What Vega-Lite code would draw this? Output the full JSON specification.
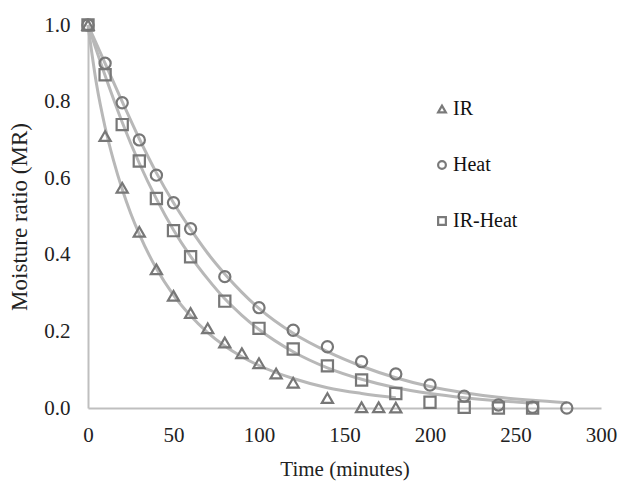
{
  "$schema": "https://vega.github.io/schema/vega-lite/v6.json",
  "width": 513,
  "height": 383,
  "autosize": {"type": "none"},
  "padding": {"left": 88, "top": 25, "right": 21, "bottom": 73},
  "background": "white",
  "config": {
    "view": {"stroke": null},
    "font": "Liberation Serif",
    "axis": {
      "grid": false,
      "ticks": false,
      "domainColor": "#bfbfbf",
      "domainWidth": 2,
      "labelFont": "Liberation Serif",
      "labelFontSize": 21,
      "labelColor": "#222222",
      "titleFont": "Liberation Serif",
      "titleFontSize": 21,
      "titleFontWeight": "normal",
      "titleColor": "#222222"
    },
    "legend": {
      "labelFont": "Liberation Serif",
      "labelFontSize": 20,
      "labelColor": "#111111"
    }
  },
  "datasets": {
    "points": [
      {"t": 0, "mr": 1.0, "series": "IR"},
      {"t": 10, "mr": 0.71, "series": "IR"},
      {"t": 20, "mr": 0.575, "series": "IR"},
      {"t": 30, "mr": 0.46, "series": "IR"},
      {"t": 40, "mr": 0.362, "series": "IR"},
      {"t": 50, "mr": 0.293, "series": "IR"},
      {"t": 60, "mr": 0.248, "series": "IR"},
      {"t": 70, "mr": 0.208, "series": "IR"},
      {"t": 80, "mr": 0.171, "series": "IR"},
      {"t": 90, "mr": 0.143, "series": "IR"},
      {"t": 100, "mr": 0.117, "series": "IR"},
      {"t": 110, "mr": 0.09, "series": "IR"},
      {"t": 120, "mr": 0.066, "series": "IR"},
      {"t": 140, "mr": 0.026, "series": "IR"},
      {"t": 160, "mr": 0.002, "series": "IR"},
      {"t": 170, "mr": 0.002, "series": "IR"},
      {"t": 180, "mr": 0.001, "series": "IR"},
      {"t": 0, "mr": 1.0, "series": "Heat"},
      {"t": 10, "mr": 0.9, "series": "Heat"},
      {"t": 20, "mr": 0.797, "series": "Heat"},
      {"t": 30, "mr": 0.7, "series": "Heat"},
      {"t": 40, "mr": 0.608, "series": "Heat"},
      {"t": 50, "mr": 0.536, "series": "Heat"},
      {"t": 60, "mr": 0.468, "series": "Heat"},
      {"t": 80, "mr": 0.343, "series": "Heat"},
      {"t": 100, "mr": 0.262, "series": "Heat"},
      {"t": 120, "mr": 0.203, "series": "Heat"},
      {"t": 140, "mr": 0.16, "series": "Heat"},
      {"t": 160, "mr": 0.121, "series": "Heat"},
      {"t": 180, "mr": 0.089, "series": "Heat"},
      {"t": 200, "mr": 0.06, "series": "Heat"},
      {"t": 220, "mr": 0.031, "series": "Heat"},
      {"t": 240, "mr": 0.008, "series": "Heat"},
      {"t": 260, "mr": 0.002, "series": "Heat"},
      {"t": 280, "mr": 0.0, "series": "Heat"},
      {"t": 0, "mr": 1.0, "series": "IR-Heat"},
      {"t": 10, "mr": 0.87, "series": "IR-Heat"},
      {"t": 20, "mr": 0.74, "series": "IR-Heat"},
      {"t": 30, "mr": 0.645, "series": "IR-Heat"},
      {"t": 40, "mr": 0.547, "series": "IR-Heat"},
      {"t": 50, "mr": 0.463, "series": "IR-Heat"},
      {"t": 60, "mr": 0.395, "series": "IR-Heat"},
      {"t": 80, "mr": 0.279, "series": "IR-Heat"},
      {"t": 100, "mr": 0.208, "series": "IR-Heat"},
      {"t": 120, "mr": 0.154, "series": "IR-Heat"},
      {"t": 140, "mr": 0.11, "series": "IR-Heat"},
      {"t": 160, "mr": 0.073, "series": "IR-Heat"},
      {"t": 180, "mr": 0.038, "series": "IR-Heat"},
      {"t": 200, "mr": 0.015, "series": "IR-Heat"},
      {"t": 220, "mr": 0.002, "series": "IR-Heat"},
      {"t": 240, "mr": 0.0, "series": "IR-Heat"},
      {"t": 260, "mr": 0.0, "series": "IR-Heat"}
    ],
    "curves": [
      {"t": 0, "mr": 1.0, "series": "IR"},
      {"t": 5, "mr": 0.845, "series": "IR"},
      {"t": 10, "mr": 0.733, "series": "IR"},
      {"t": 15, "mr": 0.645, "series": "IR"},
      {"t": 20, "mr": 0.571, "series": "IR"},
      {"t": 25, "mr": 0.508, "series": "IR"},
      {"t": 30, "mr": 0.454, "series": "IR"},
      {"t": 40, "mr": 0.364, "series": "IR"},
      {"t": 50, "mr": 0.295, "series": "IR"},
      {"t": 60, "mr": 0.241, "series": "IR"},
      {"t": 70, "mr": 0.197, "series": "IR"},
      {"t": 80, "mr": 0.162, "series": "IR"},
      {"t": 90, "mr": 0.134, "series": "IR"},
      {"t": 100, "mr": 0.111, "series": "IR"},
      {"t": 120, "mr": 0.077, "series": "IR"},
      {"t": 140, "mr": 0.053, "series": "IR"},
      {"t": 160, "mr": 0.038, "series": "IR"},
      {"t": 180, "mr": 0.027, "series": "IR"},
      {"t": 0, "mr": 1.0, "series": "Heat"},
      {"t": 10, "mr": 0.9, "series": "Heat"},
      {"t": 20, "mr": 0.8, "series": "Heat"},
      {"t": 30, "mr": 0.703, "series": "Heat"},
      {"t": 40, "mr": 0.614, "series": "Heat"},
      {"t": 50, "mr": 0.536, "series": "Heat"},
      {"t": 60, "mr": 0.467, "series": "Heat"},
      {"t": 70, "mr": 0.404, "series": "Heat"},
      {"t": 80, "mr": 0.35, "series": "Heat"},
      {"t": 90, "mr": 0.302, "series": "Heat"},
      {"t": 100, "mr": 0.26, "series": "Heat"},
      {"t": 120, "mr": 0.195, "series": "Heat"},
      {"t": 140, "mr": 0.147, "series": "Heat"},
      {"t": 160, "mr": 0.109, "series": "Heat"},
      {"t": 180, "mr": 0.079, "series": "Heat"},
      {"t": 200, "mr": 0.056, "series": "Heat"},
      {"t": 220, "mr": 0.04, "series": "Heat"},
      {"t": 240, "mr": 0.028, "series": "Heat"},
      {"t": 260, "mr": 0.02, "series": "Heat"},
      {"t": 280, "mr": 0.014, "series": "Heat"},
      {"t": 0, "mr": 1.0, "series": "IR-Heat"},
      {"t": 10, "mr": 0.868, "series": "IR-Heat"},
      {"t": 20, "mr": 0.746, "series": "IR-Heat"},
      {"t": 30, "mr": 0.639, "series": "IR-Heat"},
      {"t": 40, "mr": 0.546, "series": "IR-Heat"},
      {"t": 50, "mr": 0.465, "series": "IR-Heat"},
      {"t": 60, "mr": 0.396, "series": "IR-Heat"},
      {"t": 70, "mr": 0.337, "series": "IR-Heat"},
      {"t": 80, "mr": 0.285, "series": "IR-Heat"},
      {"t": 90, "mr": 0.242, "series": "IR-Heat"},
      {"t": 100, "mr": 0.205, "series": "IR-Heat"},
      {"t": 120, "mr": 0.147, "series": "IR-Heat"},
      {"t": 140, "mr": 0.105, "series": "IR-Heat"},
      {"t": 160, "mr": 0.075, "series": "IR-Heat"},
      {"t": 180, "mr": 0.053, "series": "IR-Heat"},
      {"t": 200, "mr": 0.038, "series": "IR-Heat"},
      {"t": 220, "mr": 0.027, "series": "IR-Heat"},
      {"t": 240, "mr": 0.019, "series": "IR-Heat"},
      {"t": 260, "mr": 0.013, "series": "IR-Heat"}
    ]
  },
  "encoding": {
    "x": {
      "field": "t",
      "type": "quantitative",
      "scale": {"domain": [0, 300], "nice": false, "zero": false},
      "axis": {
        "title": "Time (minutes)",
        "values": [0, 50, 100, 150, 200, 250, 300],
        "labelPadding": 16,
        "titlePadding": 13,
        "labelFlush": false
      }
    },
    "y": {
      "field": "mr",
      "type": "quantitative",
      "scale": {"domain": [0, 1], "nice": false},
      "axis": {
        "title": "Moisture ratio (MR)",
        "titleFontSize": 23,
        "values": [0, 0.2, 0.4, 0.6, 0.8, 1.0],
        "format": ".1f",
        "labelPadding": 18,
        "titlePadding": 12,
        "labelFlush": false
      }
    }
  },
  "layer": [
    {
      "data": {"name": "curves"},
      "mark": {"type": "line", "interpolate": "monotone", "color": "#b8b8b8", "strokeWidth": 3},
      "encoding": {"detail": {"field": "series", "type": "nominal"}}
    },
    {
      "data": {"name": "points"},
      "mark": {"type": "point", "filled": false, "color": "#777777", "strokeWidth": 2.2, "opacity": 1, "size": 125},
      "encoding": {
        "shape": {
          "field": "series",
          "type": "nominal",
          "scale": {"domain": ["IR", "Heat", "IR-Heat"], "range": ["triangle-up", "circle", "square"]},
          "legend": {
            "title": null,
            "orient": "none",
            "legendX": 344,
            "legendY": 74,
            "padding": 0,
            "symbolSize": 60,
            "symbolStrokeWidth": 2.2,
            "symbolStrokeColor": "#7a7a7a",
            "symbolFillColor": "white",
            "rowPadding": 36,
            "labelOffset": 1
          }
        }
      }
    }
  ]
}
